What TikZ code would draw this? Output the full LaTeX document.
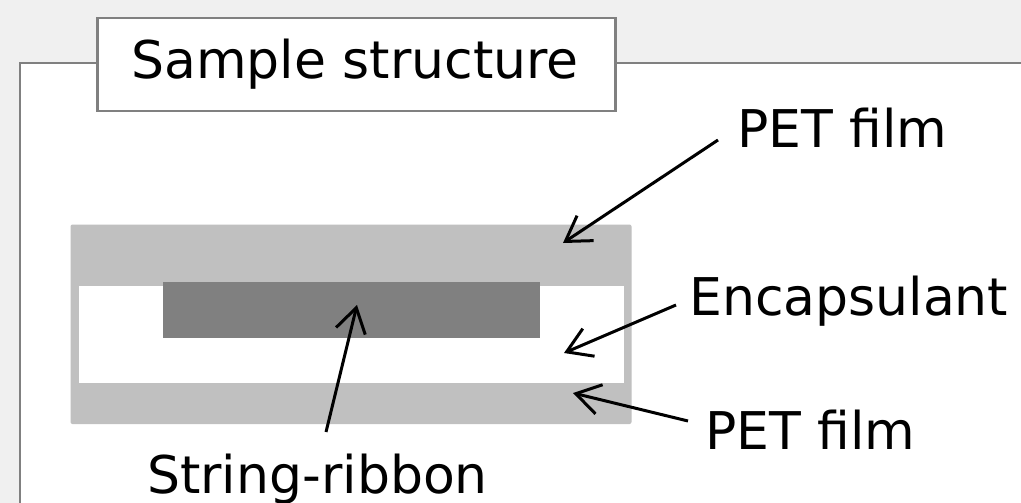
\documentclass[tikz,border=0pt]{standalone}
\usepackage{fontspec}
\setmainfont{DejaVu Sans}
\usetikzlibrary{arrows.meta}
\definecolor{bggray}{HTML}{F0F0F0}
\definecolor{framegray}{HTML}{808080}
\definecolor{petgray}{HTML}{C0C0C0}
\definecolor{ribbongray}{HTML}{808080}
\tikzset{
  lbl/.style={inner sep=0pt, anchor=base west, font=\fontsize{52}{60}\selectfont},
  pointer/.style={line width=3pt, black, -{Straight Barb[length=24pt,width=30pt]}},
  framebox/.style={draw=framegray, line width=2.5pt, fill=white}
}
\begin{document}
\begin{tikzpicture}[x=1pt,y=-1pt]
  \useasboundingbox (0,0) rectangle (1021,503);
  \fill[bggray] (0,0) rectangle (1021,503);
  \begin{scope}
    \clip (0,0) rectangle (1021,503);
    \draw[framebox] (20,63) rectangle (1040,520);
  \end{scope}
  \node[framebox, minimum width=518pt, minimum height=93pt, anchor=north west, inner sep=0pt] (title) at (96,17) {};
  \node[lbl, anchor=base] (titletext) at (355,78) {Sample structure};
  % structure
  \fill[petgray, rounded corners=2pt] (70.5,224.5) rectangle (631.5,424);
  \fill[white] (78.5,286) rectangle (624,383);
  \fill[ribbongray] (163,282) rectangle (539.5,338);
  % labels
  \node[lbl] (pettop) at (737,147) {PET film};
  \node[lbl] (encap) at (689,315) {Encapsulant};
  \node[lbl] (petbot) at (705,449) {PET film};
  \node[lbl] (ribbon) at (147,493) {String-ribbon};
  % connector ends
  \coordinate (pettopA) at (718,140);
  \coordinate (pettopB) at (563,243);
  \coordinate (encapA) at (676,305);
  \coordinate (encapB) at (564,353);
  \coordinate (petbotA) at (688,421);
  \coordinate (petbotB) at (573,393);
  \coordinate (ribbonA) at (326,432);
  \coordinate (ribbonB) at (357,305);
  \draw[pointer] (pettopA) -- (pettopB);
  \draw[pointer] (encapA) -- (encapB);
  \draw[pointer] (petbotA) -- (petbotB);
  \draw[pointer] (ribbonA) -- (ribbonB);
\end{tikzpicture}
\end{document}
